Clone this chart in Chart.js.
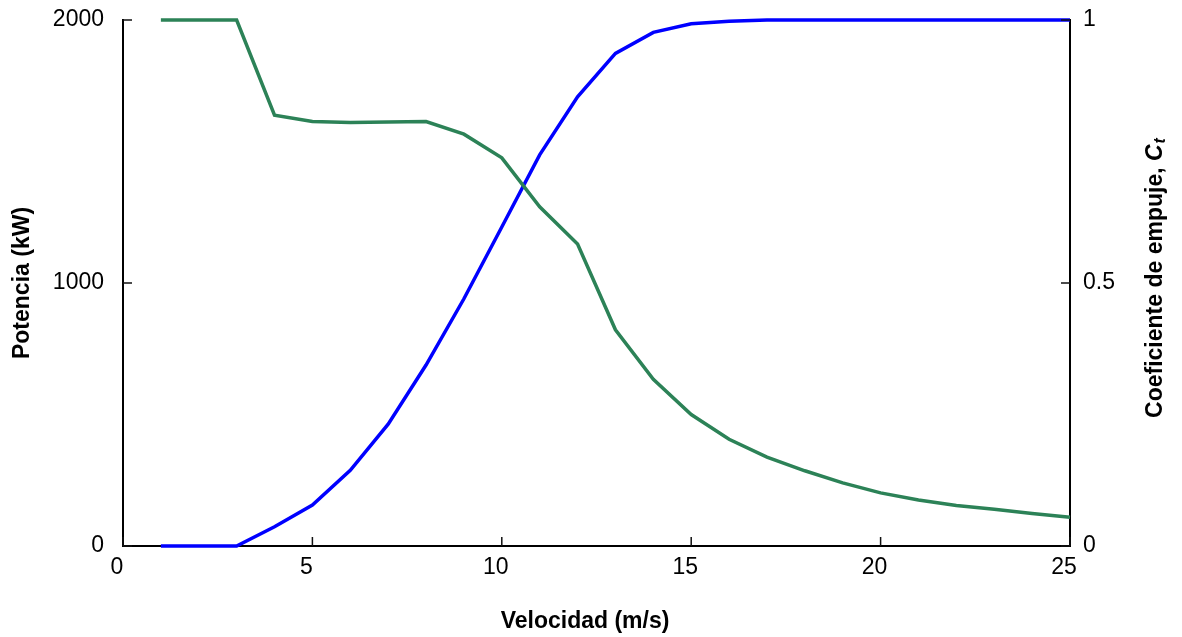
<!DOCTYPE html>
<html>
<head>
<meta charset="utf-8">
<script src="https://cdn.jsdelivr.net/npm/chart.js@4/dist/chart.umd.min.js"></script>
<style>
  html, body { margin: 0; padding: 0; background: #fff; }
  #wrap { width: 1182px; height: 637px; }
</style>
</head>
<body>
<div id="wrap"><canvas id="curvas" width="1182" height="637"></canvas></div>
<script>
// curva de potencia y coeficiente de empuje del aerogenerador
var velocidad = [1, 2, 3, 4, 5, 6, 7, 8, 9, 10, 11, 12, 13, 14, 15, 16, 17, 18, 19, 20, 21, 22, 23, 24, 25];
var potencia = [0, 0, 0, 73, 156, 288, 463, 688, 940, 1213, 1487, 1708, 1873, 1953, 1986, 1995, 2000, 2000, 2000, 2000, 2000, 2000, 2000, 2000, 2000];
var coefEmpuje = [1, 1, 1, 0.819, 0.807, 0.805, 0.806, 0.807, 0.783, 0.738, 0.645, 0.574, 0.411, 0.317, 0.250, 0.203, 0.169, 0.143, 0.120, 0.101, 0.0875, 0.077, 0.070, 0.062, 0.0545];

var ticksX = [0, 5, 10, 15, 20, 25];
var ticksPot = [0, 1000, 2000];
var ticksCt = [0, 0.5, 1];

var fuente = 'Liberation Sans, Arial, Helvetica, sans-serif';

function pares(xs, ys) {
  return xs.map(function(x, i) { return {x: x, y: ys[i]}; });
}

// marcas de los ejes hacia dentro del area del grafico
var marcasInternas = {
  id: 'marcasInternas',
  afterDatasetsDraw: function(chart) {
    var ctx = chart.ctx, a = chart.chartArea, s = chart.scales;
    ctx.save();
    ctx.strokeStyle = '#111';
    ctx.lineWidth = 1.5;
    ctx.beginPath();
    ticksX.forEach(function(v) {
      var px = s.x.getPixelForValue(v);
      ctx.moveTo(px, a.bottom); ctx.lineTo(px, a.bottom - 9);
    });
    ticksPot.forEach(function(v) {
      var py = s.y.getPixelForValue(v);
      ctx.moveTo(a.left, py); ctx.lineTo(a.left + 9, py);
    });
    ticksCt.forEach(function(v) {
      var py = s.y1.getPixelForValue(v);
      ctx.moveTo(a.right, py); ctx.lineTo(a.right - 9, py);
    });
    ctx.stroke();
    ctx.restore();
  }
};

// titulos de los ejes (el de la derecha lleva C con subindice t en cursiva)
var titulos = {
  id: 'titulos',
  afterDraw: function(chart) {
    var ctx = chart.ctx;
    ctx.save();
    ctx.fillStyle = '#000';
    ctx.textBaseline = 'middle';

    ctx.font = 'bold 23px ' + fuente;
    ctx.textAlign = 'center';
    ctx.fillText('Velocidad (m/s)', 585, 622);

    ctx.save();
    ctx.translate(23, 283);
    ctx.rotate(-Math.PI / 2);
    ctx.fillText('Potencia (kW)', 0, 0);
    ctx.restore();

    var parte1 = 'Coeficiente de empuje, ';
    var fuenteBase = 'bold 23px ' + fuente;
    var fuenteC = 'italic bold 23px ' + fuente;
    var fuenteSub = 'italic bold 16px ' + fuente;
    ctx.font = fuenteBase; var w1 = ctx.measureText(parte1).width;
    ctx.font = fuenteC; var w2 = ctx.measureText('C').width;
    ctx.font = fuenteSub; var w3 = ctx.measureText('t').width;
    var total = w1 + w2 + w3 + 1;
    ctx.save();
    ctx.translate(1156, 278);
    ctx.rotate(-Math.PI / 2);
    ctx.textAlign = 'left';
    var x0 = -total / 2;
    ctx.font = fuenteBase; ctx.fillText(parte1, x0, 0);
    ctx.font = fuenteC; ctx.fillText('C', x0 + w1, 0);
    ctx.font = fuenteSub; ctx.fillText('t', x0 + w1 + w2 + 1, 5);
    ctx.restore();

    ctx.restore();
  }
};

function etiquetas(extra) {
  return Object.assign({
    color: '#000',
    font: { family: fuente, size: 23 },
    callback: function(v) { return String(v); }
  }, extra);
}

// tamano fijo de cada eje; sin relleno extra por las etiquetas de los extremos
function tamanoFijo(dim, valor) {
  return function(scale) {
    scale[dim] = valor;
    scale.paddingTop = 0;
    scale.paddingBottom = 0;
    scale.paddingLeft = 0;
    scale.paddingRight = 0;
  };
}

new Chart(document.getElementById('curvas').getContext('2d'), {
  type: 'line',
  data: {
    datasets: [{
      label: 'Coeficiente de empuje',
      data: pares(velocidad, coefEmpuje),
      yAxisID: 'y1',
      borderColor: 'rgb(44, 130, 87)',
      borderWidth: 3.5,
      pointRadius: 0,
      tension: 0,
      fill: false,
      clip: false
    }, {
      label: 'Potencia',
      data: pares(velocidad, potencia),
      yAxisID: 'y',
      borderColor: '#0000ff',
      borderWidth: 3.5,
      pointRadius: 0,
      tension: 0,
      fill: false,
      clip: false
    }]
  },
  options: {
    responsive: false,
    animation: false,
    layout: { padding: { top: 20, left: 0, right: 0, bottom: 0 } },
    plugins: {
      legend: { display: false },
      tooltip: { enabled: false },
      title: { display: false }
    },
    scales: {
      x: {
        type: 'linear',
        min: 0,
        max: 25,
        afterFit: tamanoFijo('height', 91),
        afterBuildTicks: function(scale) {
          scale.ticks = ticksX.map(function(v) { return {value: v}; });
        },
        ticks: etiquetas({ padding: 8, labelOffset: -6, maxRotation: 0 }),
        grid: { display: false, drawTicks: false },
        border: { display: true, color: '#000', width: 2 }
      },
      y: {
        type: 'linear',
        position: 'left',
        min: 0,
        max: 2000,
        afterFit: tamanoFijo('width', 123),
        afterBuildTicks: function(scale) {
          scale.ticks = ticksPot.map(function(v) { return {value: v}; });
        },
        ticks: etiquetas({ padding: 19 }),
        grid: { display: false, drawTicks: false },
        border: { display: true, color: '#000', width: 2 }
      },
      y1: {
        type: 'linear',
        position: 'right',
        min: 0,
        max: 1,
        afterFit: tamanoFijo('width', 112),
        afterBuildTicks: function(scale) {
          scale.ticks = ticksCt.map(function(v) { return {value: v}; });
        },
        ticks: etiquetas({ padding: 13 }),
        grid: { display: false, drawTicks: false },
        border: { display: true, color: '#000', width: 2 }
      }
    }
  },
  plugins: [marcasInternas, titulos]
});
</script>
</body>
</html>
